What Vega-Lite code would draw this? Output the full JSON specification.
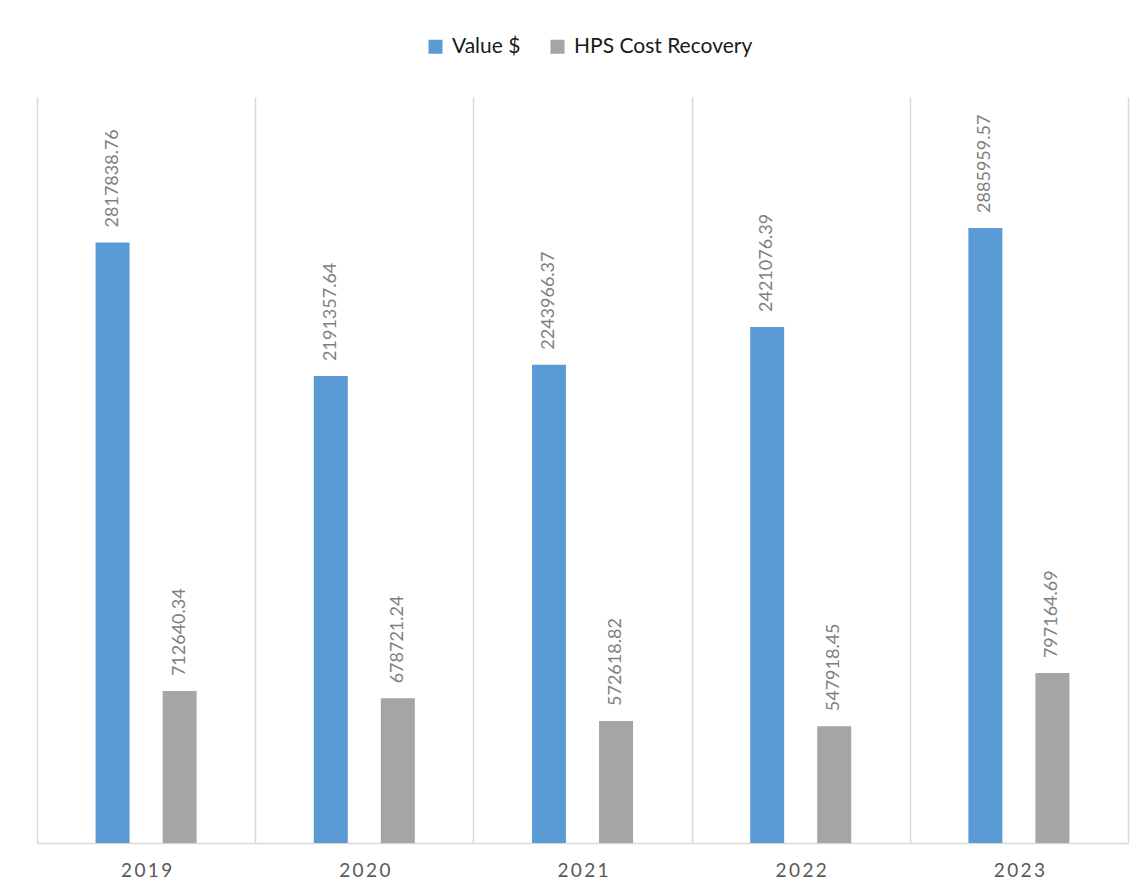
{
  "$schema": "https://vega.github.io/schema/vega-lite/v6.json",
  "width": 1091,
  "height": 746,
  "autosize": {"type": "none"},
  "padding": {"left": 37, "top": 97, "right": 19, "bottom": 53},
  "background": "white",
  "config": {"view": {"stroke": null}, "font": "Lato"},
  "data": {
    "values": [
      {"year": "2019", "series": "Value $", "value": 2817838.76},
      {"year": "2019", "series": "HPS Cost Recovery", "value": 712640.34},
      {"year": "2020", "series": "Value $", "value": 2191357.64},
      {"year": "2020", "series": "HPS Cost Recovery", "value": 678721.24},
      {"year": "2021", "series": "Value $", "value": 2243966.37},
      {"year": "2021", "series": "HPS Cost Recovery", "value": 572618.82},
      {"year": "2022", "series": "Value $", "value": 2421076.39},
      {"year": "2022", "series": "HPS Cost Recovery", "value": 547918.45},
      {"year": "2023", "series": "Value $", "value": 2885959.57},
      {"year": "2023", "series": "HPS Cost Recovery", "value": 797164.69}
    ]
  },
  "encoding": {
    "x": {
      "field": "year",
      "type": "nominal",
      "scale": {"paddingInner": 0, "paddingOuter": 0},
      "axis": {
        "title": null,
        "grid": true,
        "gridColor": "#d9d9d9",
        "gridWidth": 1.5,
        "tickBand": "extent",
        "ticks": false,
        "domainColor": "#d9d9d9",
        "domainWidth": 1.5,
        "labelAngle": 0,
        "labelFont": "Lato",
        "labelFontSize": 19,
        "labelColor": "#595959",
        "labelPadding": 18,
        "labelExpr": "join(split(datum.label, ''), '\u2009')"
      }
    },
    "xOffset": {
      "field": "series",
      "type": "nominal",
      "sort": ["Value $", "HPS Cost Recovery"],
      "scale": {"paddingInner": 0, "paddingOuter": 0.627}
    },
    "y": {
      "field": "value",
      "type": "quantitative",
      "scale": {"domain": [0, 3500000]},
      "axis": null
    }
  },
  "layer": [
    {
      "mark": {"type": "bar", "width": 34},
      "encoding": {
        "color": {
          "field": "series",
          "type": "nominal",
          "sort": ["Value $", "HPS Cost Recovery"],
          "scale": {"domain": ["Value $", "HPS Cost Recovery"], "range": ["#5b9bd5", "#a5a5a5"]},
          "legend": {
            "title": null,
            "orient": "none",
            "direction": "horizontal",
            "legendX": 388,
            "legendY": -61,
            "symbolType": "square",
            "symbolSize": 196,
            "symbolStrokeWidth": 0,
            "labelFont": "Lato",
            "labelFontSize": 21,
            "labelColor": "#1a1a1a",
            "labelOffset": 6,
            "labelLimit": 0,
            "columnPadding": 26,
            "padding": 0
          }
        }
      }
    },
    {
      "mark": {
        "type": "text",
        "angle": 270,
        "align": "left",
        "baseline": "middle",
        "dx": 15,
        "font": "Lato",
        "fontSize": 18,
        "color": "#7f7f7f"
      },
      "encoding": {
        "text": {"field": "value", "type": "quantitative", "format": ".2f"}
      }
    }
  ]
}
